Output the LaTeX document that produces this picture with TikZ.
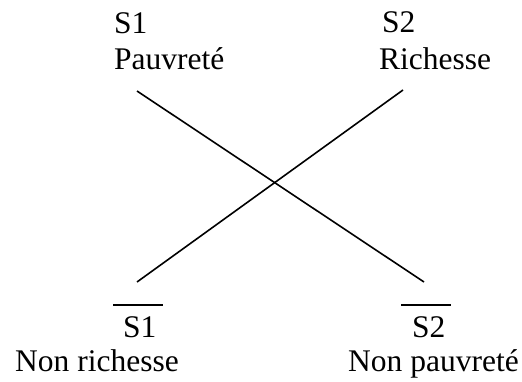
\documentclass[tikz,border=0pt]{standalone}
\usepackage{fontspec}
\setmainfont{Liberation Serif}
\begin{document}
\begin{tikzpicture}[x=1pt,y=1pt,
  lbl/.style={anchor=base west,inner sep=0pt,font=\fontsize{31.5}{36}\selectfont},
  link/.style={line width=1.6pt,black},
  bar/.style={line width=1.4pt,black}]
\useasboundingbox (0,0) rectangle (522,381);
\node[lbl] (s1top) at (114,347) {S1};
\node[lbl] (pauv) at (114,311) {Pauvreté};
\node[lbl] (s2top) at (382,348) {S2};
\node[lbl] (rich) at (379,311) {Richesse};
\node[lbl] (s1bot) at (123,44) {S1};
\node[lbl] (nonrich) at (15,10) {Non richesse};
\node[lbl] (s2bot) at (412,44) {S2};
\node[lbl] (nonpauv) at (348,10) {Non pauvreté};
\coordinate (a1) at (137,290);
\coordinate (a2) at (424,99);
\coordinate (b1) at (137,99);
\coordinate (b2) at (403,291);
\coordinate (o1l) at (113,76);
\coordinate (o1r) at (163,76);
\coordinate (o2l) at (401,76);
\coordinate (o2r) at (451,76);
\draw[link] (a1) -- (a2);
\draw[link] (b1) -- (b2);
\draw[bar] (o1l) -- (o1r);
\draw[bar] (o2l) -- (o2r);
\end{tikzpicture}
\end{document}
